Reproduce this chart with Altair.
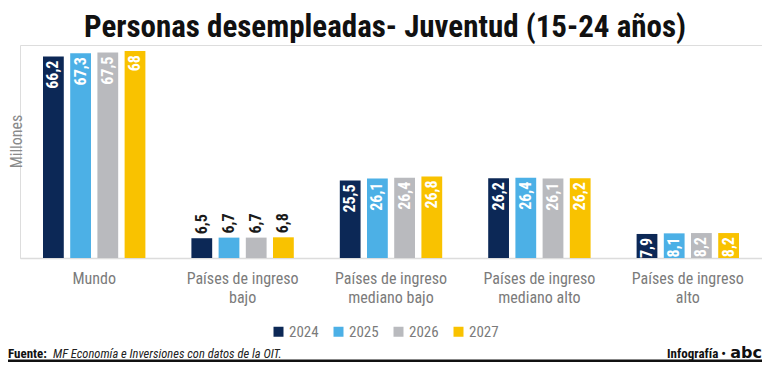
import altair as alt
import pandas as pd

groups = ["Mundo", "Países de ingreso|bajo", "Países de ingreso|mediano bajo",
          "Países de ingreso|mediano alto", "Países de ingreso|alto"]
years = ["2024", "2025", "2026", "2027"]
v2024 = [66.2, 6.5, 25.5, 26.2, 7.9]
v2025 = [67.3, 6.7, 26.1, 26.4, 8.1]
v2026 = [67.5, 6.7, 26.4, 26.1, 8.2]
v2027 = [68.0, 6.8, 26.8, 26.2, 8.2]
colors = ["#0c2856", "#4cb0e6", "#b9babe", "#f9c200"]

title_text = "Personas desempleadas- Juventud (15-24 años)"
source_bold = "Fuente:"
source_text = "MF Economía e Inversiones con datos de la OIT."
credit_text = "Infografía •"
logo_text = "abc"


def fmt(v):
    s = f"{v:.1f}"
    if s.endswith(".0"):
        s = s[:-2]
    return s.replace(".", ",")


rows = []
for yr, vals in zip(years, [v2024, v2025, v2026, v2027]):
    for g, v in zip(groups, vals):
        rows.append(dict(group=g, year=yr, value=v, label=fmt(v)))
df = pd.DataFrame(rows)

NARROW = "'Liberation Sans Narrow', 'Roboto Condensed', 'DejaVu Sans Condensed', 'Arial Narrow', sans-serif"
GRAY = "#7b7b7b"
W, H = 742, 213

x = alt.X("group:N", sort=groups,
          scale=alt.Scale(paddingInner=0.31, paddingOuter=0.155),
          axis=alt.Axis(title=None, labelExpr="split(datum.label, '|')",
                        labelFont=NARROW, labelFontSize=16, labelColor=GRAY,
                        labelAngle=0, labelPadding=12, labelLineHeight=19,
                        labelBaseline="top",
                        ticks=False, domainColor="#dcdcdc", domainWidth=1.5))
xo = alt.XOffset("year:N", sort=years,
                 scale=alt.Scale(paddingInner=0.236, paddingOuter=0))
y = alt.Y("value:Q", scale=alt.Scale(domain=[0, 70], nice=False),
          axis=alt.Axis(title="Millones", labels=False, ticks=False, domain=False,
                        grid=False, titleFont=NARROW, titleFontSize=16,
                        titleFontWeight="normal", titleColor="#8a8a8a",
                        titleX=-4, titleY=96, titleAngle=270,
                        titleAlign="center", titleBaseline="middle"))

base = alt.Chart(df).encode(x=x, xOffset=xo, y=y)

bars = base.mark_bar().encode(
    color=alt.Color("year:N", sort=years,
                    scale=alt.Scale(domain=years, range=colors),
                    legend=alt.Legend(title=None, orient="none", legendX=251, legendY=279,
                                      direction="horizontal", symbolType="square",
                                      symbolSize=100, symbolStrokeWidth=0,
                                      labelFont=NARROW, labelFontSize=15,
                                      labelColor=GRAY, columnPadding=12,
                                      labelOffset=3))
)

inside = base.transform_filter("datum.value >= 7").mark_text(
    angle=270, align="right", baseline="middle", dx=-4, color="white",
    font=NARROW, fontWeight="bold", fontSize=16
).encode(text="label:N")

above = base.transform_filter("datum.value < 7").mark_text(
    angle=270, align="left", baseline="middle", dx=4, color="#1a1a1a",
    font=NARROW, fontWeight="bold", fontSize=16
).encode(text="label:N")


def note(txt, xpos, ypos, align="left", weight="normal", style="normal", size=13, font=NARROW, color="#111"):
    return alt.Chart(pd.DataFrame({"t": [txt]})).mark_text(
        align=align, baseline="middle", font=font, fontSize=size,
        fontWeight=weight, fontStyle=style, color=color
    ).encode(x=alt.value(xpos), y=alt.value(ypos), text="t:N")


f1 = note(source_bold, -12, 309, weight="bold")
f2 = note(source_text, 33, 309, style="italic", color="#222", size=12.5)
f3 = note(credit_text, 706, 309, align="right", weight="bold")
f4 = note(logo_text, 742, 308, align="right", weight=900, size=16,
          font="'DejaVu Sans', sans-serif")

bottom_bar = alt.Chart(pd.DataFrame({"a": [0]})).mark_rule(
    color="#111", strokeWidth=3
).encode(x=alt.value(-12), x2=alt.value(W), y=alt.value(316))

chart = alt.layer(bars, inside, above, f1, f2, f3, f4, bottom_bar).properties(
    width=W, height=H,
    title=alt.TitleParams(text=title_text, font=NARROW, fontSize=31,
                          fontWeight="bold", color="#111", anchor="middle",
                          baseline="alphabetic", offset=7, dx=-6, dy=30),
    autosize=alt.AutoSizeParams(type="none"),
    padding={"left": 12, "top": 37, "right": 0, "bottom": 104},
).configure_view(stroke=None).configure(background="white")

chart.save("out.html", embed_options={"renderer": "svg", "actions": False})
